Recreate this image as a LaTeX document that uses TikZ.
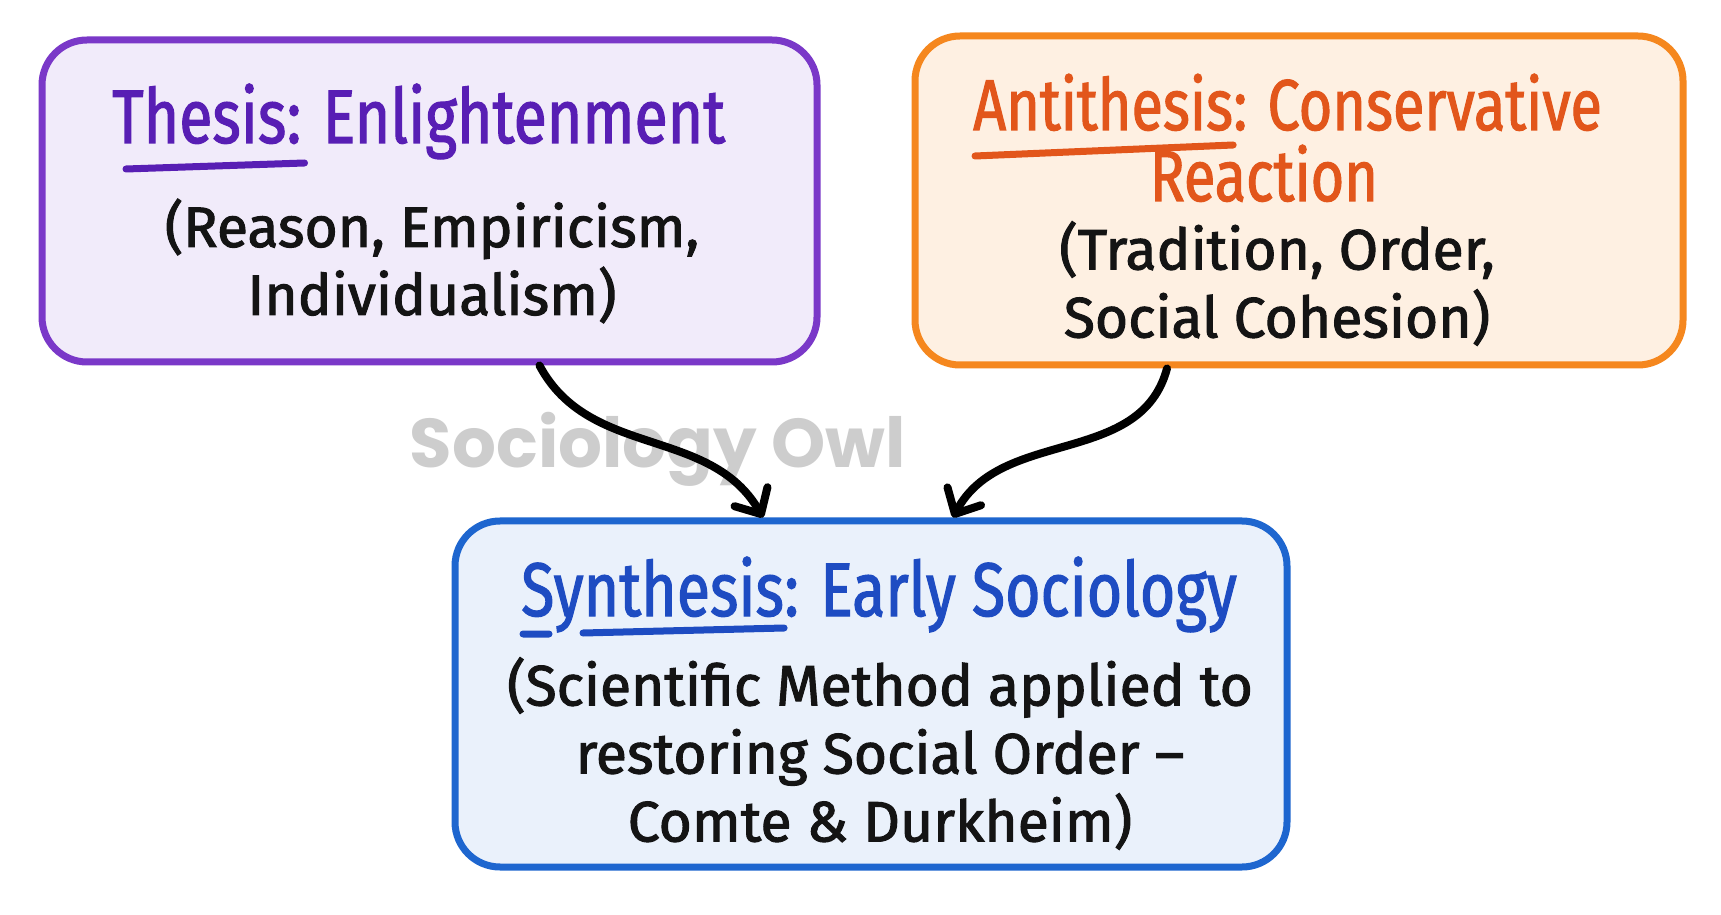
\documentclass[tikz,border=0pt]{standalone}
\usepackage{fontspec}
\setmainfont{Fira Sans}
\newfontfamily\handfont[FakeBold=1.8]{Fira Sans}
\newfontfamily\titlefont[FakeStretch=0.80,FakeBold=1.5]{Fira Sans}
\newfontfamily\markfont{Poppins}
\usetikzlibrary{positioning,arrows.meta}

\definecolor{thesisline}{RGB}{122,56,200}
\definecolor{thesisfill}{RGB}{241,235,250}
\definecolor{thesisink}{RGB}{88,30,180}
\definecolor{antiline}{RGB}{245,135,30}
\definecolor{antifill}{RGB}{254,240,226}
\definecolor{antiink}{RGB}{226,86,27}
\definecolor{synline}{RGB}{30,102,207}
\definecolor{synfill}{RGB}{234,241,251}
\definecolor{synink}{RGB}{30,76,194}
\definecolor{inkblack}{RGB}{20,20,20}
\definecolor{markgray}{RGB}{205,205,205}

\begin{document}
\begin{tikzpicture}[x=1pt, y=1pt,
    box/.style={draw, rounded corners=45pt, line width=7pt, inner sep=0pt},
    title/.style={font=\titlefont\fontsize{76}{72}\selectfont, inner sep=0pt},
    smalltitle/.style={title, font=\titlefont\fontsize{72}{72}\selectfont},
    body/.style={font=\handfont\fontsize{57}{68}\selectfont, align=center, inner sep=0pt, text=inkblack},
    uline/.style={line width=7pt, line cap=round},
    link/.style={line width=8pt, line cap=round, -{Straight Barb[length=20pt, width=38pt, round]}}]
    \path[fill=white, use as bounding box] (0,0) rectangle (1721,914);

    % the three boxes
    \node[box, draw=thesisline, fill=thesisfill, minimum width=775pt, minimum height=322pt] (thesis) at (429.5,713) {};
    \node[box, draw=antiline, fill=antifill, minimum width=768pt, minimum height=329pt] (anti) at (1299,713.5) {};
    \node[box, draw=synline, fill=synfill, minimum width=832pt, minimum height=346pt] (synth) at (871,220) {};

    % thesis
    \node[title, text=thesisink, anchor=base west] (thword) at (112,771) {Thesis};
    \node[title, text=thesisink, anchor=base west] (threst) at (thword.base east) {: Enlightenment};
    \draw[uline, thesisink] ([xshift=14pt, yshift=-26pt]thword.base west) -- ([xshift=18pt, yshift=-20pt]thword.base east);
    \node[body] (thbody) at (432,653) {(Reason, Empiricism,\\Individualism)};

    % antithesis
    \node[smalltitle, text=antiink, anchor=base west] (anword) at (973,784) {Antithesis};
    \node[smalltitle, text=antiink, anchor=base west] (anrest) at (anword.base east) {: Conservative};
    \node[smalltitle, text=antiink, anchor=base] (anline) at (1264,713) {Reaction};
    \draw[uline, antiink] ([xshift=2pt, yshift=-26pt]anword.base west) -- ([yshift=-15pt]anword.base east);
    \node[body] (anbody) at (1277,630.5) {(Tradition, Order,\\Social Cohesion)};

    % synthesis
    \node[title, text=synink, anchor=base west] (synword) at (521,298) {Synthesis};
    \node[title, text=synink, anchor=base west] (synrest) at (synword.base east) {: Early Sociology};
    \draw[uline, synink] ([xshift=2pt, yshift=-18pt]synword.base west) -- +(26pt,0pt)
        ([xshift=62pt, yshift=-17pt]synword.base west) -- ([yshift=-12pt]synword.base east);
    \node[body] (synbody) at (880,160.5) {(Scientific Method applied to\\restoring Social Order –\\Comte \& Durkheim)};

    % watermark
    \node[font=\markfont\bfseries\fontsize{69}{69}\selectfont, text=markgray, anchor=base, inner sep=0pt] (mark) at (658,446) {Sociology Owl};

    \draw[link] ([xshift=110pt]thesis.south) to[out=-62, in=120] ([xshift=-108pt]synth.north);
    \draw[link] ([xshift=-132pt]anti.south) to[out=-105, in=62] ([xshift=82pt]synth.north);
\end{tikzpicture}
\end{document}
